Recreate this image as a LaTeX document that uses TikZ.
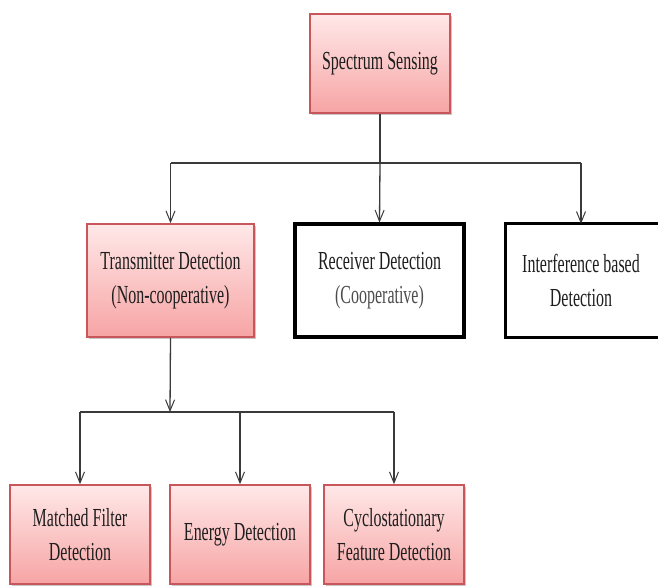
\documentclass[tikz,border=0pt]{standalone}
\usepackage{fontspec}
\setmainfont{Liberation Serif}
\newfontfamily\boxfont[FakeStretch=0.615]{Liberation Serif}
\usetikzlibrary{arrows.meta,shadows}

\definecolor{pinktop}{HTML}{FFE8E8}
\definecolor{pinkbot}{HTML}{F7A4A4}
\definecolor{pinkedge}{HTML}{C9565A}
\definecolor{wire}{HTML}{3A3A3A}
\definecolor{ink}{HTML}{1E1E1E}

\tikzset{
  boxtext/.style={align=center, font=\boxfont\fontsize{26}{34}\selectfont, text=ink},
  pinkbox/.style={boxtext, draw=pinkedge, line width=1.6pt, top color=pinktop, bottom color=pinkbot,
    general shadow={fill=black!22, shadow xshift=2pt, shadow yshift=-2pt}},
  blackbox/.style={boxtext, draw=black, line width=3.2pt, fill=white},
  blackframe/.style={draw=black, line width=3.2pt},
  wireline/.style={draw=wire, line width=1.3pt},
  arrowline/.style={wireline, -{Straight Barb[length=11pt,width=9pt,line width=1pt]}}
}

\begin{document}
\begin{tikzpicture}[x=1pt,y=-1pt]
  \useasboundingbox (0,0) rectangle (658,586);
  \clip (0,0) rectangle (658,586);

  % top level
  \node[pinkbox, minimum width=140pt, minimum height=99pt] (ss) at (380,63.5) {Spectrum Sensing};

  % second level
  \node[pinkbox, minimum width=167pt, minimum height=113pt] (tx) at (170.5,280.5)
    {Transmitter Detection\\(Non-cooperative)};
  \node[blackbox, minimum width=169pt, minimum height=113pt] (rx) at (379.5,280.5)
    {Receiver Detection\\{\color{black!70}(Cooperative)}};
  % this box runs past the right edge of the sheet
  \node[boxtext, minimum width=150pt, minimum height=113pt] (ib) at (581,280.5)
    {Interference based\\Detection};
  \draw[blackframe] (ib.north west) rectangle ([xshift=30pt]ib.south east);

  % third level
  \node[pinkbox, minimum width=140pt, minimum height=99pt] (mf) at (80,534.5)
    {Matched Filter\\Detection};
  \node[pinkbox, minimum width=140pt, minimum height=99pt] (en) at (240,534.5)
    {Energy Detection};
  \node[pinkbox, minimum width=140pt, minimum height=99pt] (cf) at (394,534.5)
    {Cyclostationary\\Feature Detection};

  % junctions of the two buses
  \coordinate (j1) at (380,163);
  \coordinate (j2) at (170,412);

  % first bus
  \draw[wireline] (ss.south) -- (j1);
  \draw[wireline] (tx.north |- j1) -- (ib.north |- j1);
  \draw[arrowline] (tx.north |- j1) -- (tx.north);
  \draw[arrowline] (j1) -- (rx.north);
  \draw[arrowline] (ib.north |- j1) -- (ib.north);

  % second bus
  \draw[arrowline] (tx.south) -- (j2);
  \draw[wireline] (mf.north |- j2) -- (cf.north |- j2);
  \draw[arrowline] (mf.north |- j2) -- (mf.north);
  \draw[arrowline] (en.north |- j2) -- (en.north);
  \draw[arrowline] (cf.north |- j2) -- (cf.north);
\end{tikzpicture}
\end{document}
